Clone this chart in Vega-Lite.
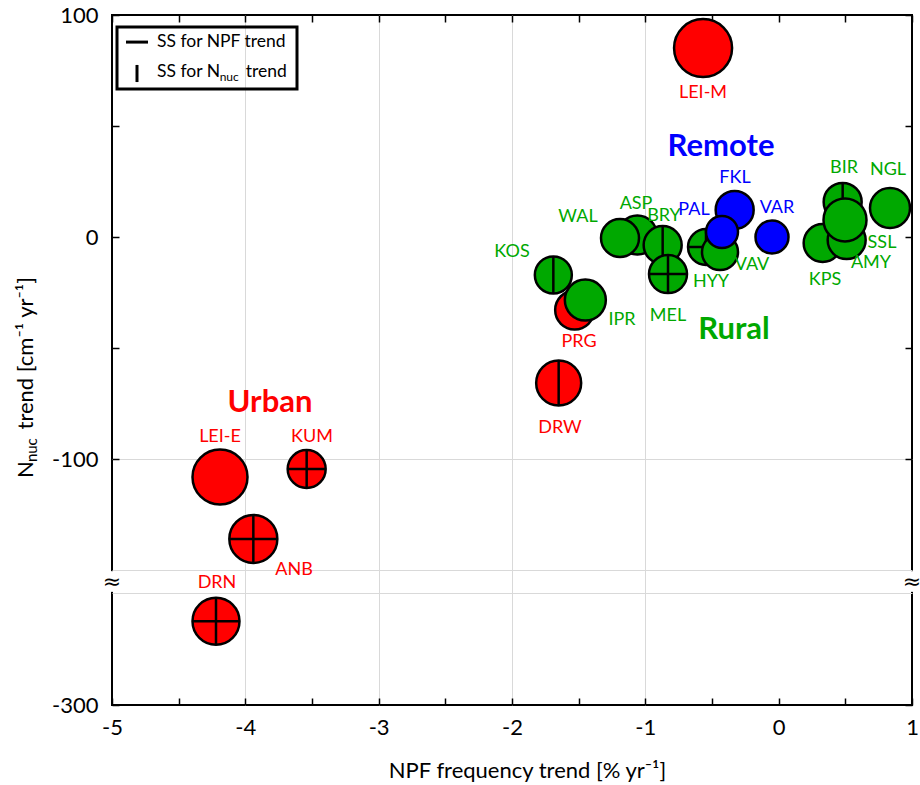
{
  "$schema": "https://vega.github.io/schema/vega-lite/v6.json",
  "width": 800,
  "height": 690,
  "autosize": {"type": "none"},
  "padding": {"left": 112, "top": 15, "right": 8, "bottom": 80},
  "background": "white",
  "config": {
    "view": {"stroke": "black", "strokeWidth": 2},
    "font": "Lato",
    "axis": {
      "labelFont": "Lato", "titleFont": "Lato", "labelColor": "black", "titleColor": "black",
      "labelFontSize": 22, "titleFontSize": 22, "titleFontWeight": "normal",
      "tickColor": "black", "tickWidth": 1.5, "tickSize": -7, "domain": false,
      "gridColor": "#d9d9d9", "gridWidth": 1, "labelOverlap": false, "labelFlush": false
    }
  },
  "datasets": {
    "sites": [
      {"site": "LEI-M", "type": "Urban", "npf": -0.567, "nnuc": 85.1, "d": 58, "ssNPF": false, "ssN": false, "lx": -0.5675, "ly": 64.9, "top": false},
      {"site": "LEI-E", "type": "Urban", "npf": -4.19, "nnuc": -108.1, "d": 55, "ssNPF": false, "ssN": false, "lx": -4.19, "ly": -90.1, "top": false},
      {"site": "KUM", "type": "Urban", "npf": -3.54, "nnuc": -104.5, "d": 38, "ssNPF": true, "ssN": true, "lx": -3.5, "ly": -90.1, "top": false},
      {"site": "ANB", "type": "Urban", "npf": -3.94, "nnuc": -136.0, "d": 48, "ssNPF": true, "ssN": true, "lx": -3.635, "ly": -150.0, "top": false},
      {"site": "DRN", "type": "Urban", "npf": -4.22, "nnuc": -262.6, "d": 47, "ssNPF": true, "ssN": true, "lx": -4.2125, "ly": -206.5, "top": false},
      {"site": "DRW", "type": "Urban", "npf": -1.65, "nnuc": -65.8, "d": 45, "ssNPF": false, "ssN": true, "lx": -1.64, "ly": -86.0, "top": false},
      {"site": "PRG", "type": "Urban", "npf": -1.53, "nnuc": -32.9, "d": 39, "ssNPF": false, "ssN": false, "lx": -1.4975, "ly": -47.3, "top": false},
      {"site": "KOS", "type": "Rural", "npf": -1.69, "nnuc": -17.1, "d": 37, "ssNPF": false, "ssN": true, "lx": -2.0, "ly": -6.8, "top": false},
      {"site": "IPR", "type": "Rural", "npf": -1.45, "nnuc": -28.4, "d": 41, "ssNPF": false, "ssN": false, "lx": -1.175, "ly": -37.4, "top": false},
      {"site": "ASP", "type": "Rural", "npf": -1.06, "nnuc": 0.9, "d": 39, "ssNPF": false, "ssN": false, "lx": -1.07, "ly": 14.9, "top": false},
      {"site": "WAL", "type": "Rural", "npf": -1.19, "nnuc": -0.45, "d": 38, "ssNPF": false, "ssN": false, "lx": -1.505, "ly": 9.0, "top": false},
      {"site": "BRY", "type": "Rural", "npf": -0.87, "nnuc": -3.6, "d": 38, "ssNPF": false, "ssN": true, "lx": -0.86, "ly": 9.5, "top": false},
      {"site": "HYY", "type": "Rural", "npf": -0.545, "nnuc": -4.5, "d": 36, "ssNPF": true, "ssN": true, "lx": -0.5075, "ly": -20.3, "top": false},
      {"site": "KPS", "type": "Rural", "npf": 0.33, "nnuc": -2.7, "d": 38, "ssNPF": false, "ssN": false, "lx": 0.3475, "ly": -19.4, "top": false},
      {"site": "AMY", "type": "Rural", "npf": 0.51, "nnuc": -1.4, "d": 38, "ssNPF": false, "ssN": false, "lx": 0.6925, "ly": -11.7, "top": false},
      {"site": "BIR", "type": "Rural", "npf": 0.48, "nnuc": 15.8, "d": 38, "ssNPF": false, "ssN": true, "lx": 0.49, "ly": 31.1, "top": false},
      {"site": "NGL", "type": "Rural", "npf": 0.835, "nnuc": 13.1, "d": 40, "ssNPF": false, "ssN": false, "lx": 0.82, "ly": 30.2, "top": false},
      {"site": "MEL", "type": "Rural", "npf": -0.83, "nnuc": -16.7, "d": 38, "ssNPF": true, "ssN": true, "lx": -0.83, "ly": -35.6, "top": true},
      {"site": "VAV", "type": "Rural", "npf": -0.44, "nnuc": -6.8, "d": 36, "ssNPF": false, "ssN": false, "lx": -0.2, "ly": -12.6, "top": true},
      {"site": "SSL", "type": "Rural", "npf": 0.4975, "nnuc": 7.7, "d": 43, "ssNPF": false, "ssN": false, "lx": 0.775, "ly": -2.7, "top": true},
      {"site": "FKL", "type": "Remote", "npf": -0.33, "nnuc": 12.2, "d": 38, "ssNPF": false, "ssN": false, "lx": -0.3275, "ly": 26.6, "top": true},
      {"site": "PAL", "type": "Remote", "npf": -0.425, "nnuc": 2.25, "d": 32, "ssNPF": false, "ssN": false, "lx": -0.635, "ly": 12.2, "top": true},
      {"site": "VAR", "type": "Remote", "npf": -0.05, "nnuc": 0.0, "d": 33, "ssNPF": false, "ssN": false, "lx": -0.0125, "ly": 13.1, "top": true}
    ],
    "groups": [
      {"t": "Urban", "type": "Urban", "x": -3.815, "y": -74.8},
      {"t": "Rural", "type": "Rural", "x": -0.335, "y": -41.9},
      {"t": "Remote", "type": "Remote", "x": -0.4325, "y": 40.5}
    ]
  },
  "resolve": {"axis": {"x": "independent", "y": "independent"}},
  "layer": [
    {
      "mark": {"type": "rule", "color": "black", "strokeWidth": 2.5},
      "encoding": {
        "x": {"datum": 0, "type": "quantitative",
          "axis": {"orient": "top", "values": [-5, -4.5, -4, -3.5, -3, -2.5, -2, -1.5, -1, -0.5, 0, 0.5, 1], "labels": false, "grid": false, "title": null}}
      }
    },
    {
      "mark": {"type": "rule", "color": "black", "strokeWidth": 1.5},
      "encoding": {
        "y": {"datum": 0, "type": "quantitative",
          "axis": {"orient": "right", "values": [100, 50, 0, -50, -100, -300], "labels": false, "grid": false, "title": null}}
      }
    },
    {
      "data": {"name": "sites"},
      "transform": [{"filter": "!datum.top"}],
      "mark": {"type": "point", "shape": "circle", "filled": true, "stroke": "black", "strokeWidth": 2.5, "opacity": 1},
      "encoding": {
        "x": {"field": "npf", "type": "quantitative",
          "scale": {"domain": [-5, 1], "nice": false, "zero": false},
          "axis": {"orient": "bottom", "values": [-5, -4.5, -4, -3.5, -3, -2.5, -2, -1.5, -1, -0.5, 0, 0.5, 1],
            "labelExpr": "datum.value % 1 === 0 ? '' + datum.value : ''", "labelPadding": 19,
            "grid": true,
            "gridOpacity": {"condition": {"test": "datum.value % 1 !== 0 || datum.value === 0 || datum.value === -5 || datum.value === 1", "value": 0}, "value": 1},
            "title": "NPF frequency trend [% yr⁻¹]", "titleX": 415, "titleY": 55, "titleAlign": "center", "titleBaseline": "top"}},
        "y": {"field": "nnuc", "type": "quantitative",
          "scale": {"domain": [-300, -250, -150, 100], "range": [690, 578, 555, 0], "nice": false, "zero": false},
          "axis": {"orient": "left", "values": [100, 50, 0, -50, -100, -150, -250, -300],
            "labelExpr": "indexof([100, 0, -100, -300], datum.value) >= 0 ? '' + datum.value : ''", "labelPadding": 21,
            "grid": true,
            "gridOpacity": {"condition": {"test": "indexof([-100, -150, -250], datum.value) < 0", "value": 0}, "value": 1},
            "tickOpacity": {"condition": {"test": "datum.value === -150 || datum.value === -250", "value": 0}, "value": 1},
            "title": null}},
        "color": {"field": "type", "type": "nominal", "scale": {"domain": ["Urban", "Rural", "Remote"], "range": ["#ff0000", "#00a800", "#0000ff"]}, "legend": null},
        "size": {"field": "d", "type": "quantitative", "scale": {"type": "pow", "exponent": 2, "domain": [0, 60], "range": [0, 3600]}, "legend": null}
      }
    },
    {
      "data": {"name": "sites"},
      "transform": [{"filter": "!datum.top && datum.ssNPF"}],
      "mark": {"type": "point", "shape": "M-1,0L1,0", "filled": false, "color": "black", "strokeWidth": 2.5, "opacity": 1},
      "encoding": {
        "x": {"field": "npf", "type": "quantitative", "axis": null},
        "y": {"field": "nnuc", "type": "quantitative", "axis": null},
        "size": {"field": "d", "type": "quantitative", "legend": null}
      }
    },
    {
      "data": {"name": "sites"},
      "transform": [{"filter": "!datum.top && datum.ssN"}],
      "mark": {"type": "point", "shape": "M0,-1L0,1", "filled": false, "color": "black", "strokeWidth": 2.5, "opacity": 1},
      "encoding": {
        "x": {"field": "npf", "type": "quantitative", "axis": null},
        "y": {"field": "nnuc", "type": "quantitative", "axis": null},
        "size": {"field": "d", "type": "quantitative", "legend": null}
      }
    },
    {
      "data": {"name": "sites"},
      "transform": [{"filter": "datum.top"}],
      "mark": {"type": "point", "shape": "circle", "filled": true, "stroke": "black", "strokeWidth": 2.5, "opacity": 1},
      "encoding": {
        "x": {"field": "npf", "type": "quantitative", "axis": null},
        "y": {"field": "nnuc", "type": "quantitative", "axis": null},
        "color": {"field": "type", "type": "nominal", "legend": null},
        "size": {"field": "d", "type": "quantitative", "legend": null}
      }
    },
    {
      "data": {"name": "sites"},
      "transform": [{"filter": "datum.top && datum.ssNPF"}],
      "mark": {"type": "point", "shape": "M-1,0L1,0", "filled": false, "color": "black", "strokeWidth": 2.5, "opacity": 1},
      "encoding": {
        "x": {"field": "npf", "type": "quantitative", "axis": null},
        "y": {"field": "nnuc", "type": "quantitative", "axis": null},
        "size": {"field": "d", "type": "quantitative", "legend": null}
      }
    },
    {
      "data": {"name": "sites"},
      "transform": [{"filter": "datum.top && datum.ssN"}],
      "mark": {"type": "point", "shape": "M0,-1L0,1", "filled": false, "color": "black", "strokeWidth": 2.5, "opacity": 1},
      "encoding": {
        "x": {"field": "npf", "type": "quantitative", "axis": null},
        "y": {"field": "nnuc", "type": "quantitative", "axis": null},
        "size": {"field": "d", "type": "quantitative", "legend": null}
      }
    },
    {
      "data": {"name": "sites"},
      "mark": {"type": "text", "fontSize": 18, "font": "Lato", "align": "center", "baseline": "middle"},
      "encoding": {
        "x": {"field": "lx", "type": "quantitative", "axis": null},
        "y": {"field": "ly", "type": "quantitative", "axis": null},
        "text": {"field": "site"},
        "color": {"field": "type", "type": "nominal", "legend": null}
      }
    },
    {
      "data": {"name": "groups"},
      "mark": {"type": "text", "fontSize": 31, "fontWeight": "bold", "font": "Lato", "align": "center", "baseline": "middle"},
      "encoding": {
        "x": {"field": "x", "type": "quantitative", "axis": null},
        "y": {"field": "y", "type": "quantitative", "axis": null},
        "text": {"field": "t"},
        "color": {"field": "type", "type": "nominal", "legend": null}
      }
    },
    {
      "data": {"values": [{"x": -4.9625, "x2": -3.6125, "y": 94.6, "y2": 66.7}]},
      "mark": {"type": "rect", "fill": "transparent", "stroke": "black", "strokeWidth": 3},
      "encoding": {
        "x": {"field": "x", "type": "quantitative", "axis": null},
        "x2": {"field": "x2"},
        "y": {"field": "y", "type": "quantitative", "axis": null},
        "y2": {"field": "y2"}
      }
    },
    {
      "data": {"values": [
        {"x": -4.895, "x2": -4.73, "y": 87.8, "y2": 87.8},
        {"x": -4.8125, "x2": -4.8125, "y": 77.5, "y2": 69.8}
      ]},
      "mark": {"type": "rule", "color": "black", "strokeWidth": 3},
      "encoding": {
        "x": {"field": "x", "type": "quantitative", "axis": null},
        "x2": {"field": "x2"},
        "y": {"field": "y", "type": "quantitative", "axis": null},
        "y2": {"field": "y2"}
      }
    },
    {
      "data": {"values": [
        {"t": "SS for NPF trend", "x": -4.6625, "y": 87.8},
        {"t": "SS for N", "x": -4.6625, "y": 74.3},
        {"t": "trend", "x": -3.9975, "y": 74.3}
      ]},
      "mark": {"type": "text", "fontSize": 17.5, "font": "Lato", "align": "left", "baseline": "middle", "color": "black"},
      "encoding": {
        "x": {"field": "x", "type": "quantitative", "axis": null},
        "y": {"field": "y", "type": "quantitative", "axis": null},
        "text": {"field": "t"}
      }
    },
    {
      "data": {"values": [{"t": "nuc", "x": -4.1925, "y": 70.3}]},
      "mark": {"type": "text", "fontSize": 12, "font": "Lato", "align": "left", "baseline": "alphabetic", "color": "black"},
      "encoding": {
        "x": {"field": "x", "type": "quantitative", "axis": null},
        "y": {"field": "y", "type": "quantitative", "axis": null},
        "text": {"field": "t"}
      }
    },
    {
      "data": {"values": [
        {"t": "N", "x": -5.5925, "y": -108.6},
        {"t": "trend [cm⁻¹ yr⁻¹]", "x": -5.5925, "y": -86.7}
      ]},
      "mark": {"type": "text", "fontSize": 22, "font": "Lato", "align": "left", "baseline": "alphabetic", "angle": 270, "color": "black"},
      "encoding": {
        "x": {"field": "x", "type": "quantitative", "axis": null},
        "y": {"field": "y", "type": "quantitative", "axis": null},
        "text": {"field": "t"}
      }
    },
    {
      "data": {"values": [{"t": "nuc", "x": -5.5625, "y": -101.4}]},
      "mark": {"type": "text", "fontSize": 15, "font": "Lato", "align": "left", "baseline": "alphabetic", "angle": 270, "color": "black"},
      "encoding": {
        "x": {"field": "x", "type": "quantitative", "axis": null},
        "y": {"field": "y", "type": "quantitative", "axis": null},
        "text": {"field": "t"}
      }
    },
    {
      "data": {"values": [{"x": -5.04, "x2": -4.96, "y": -155, "y2": -245}, {"x": 0.96, "x2": 1.04, "y": -155, "y2": -245}]},
      "mark": {"type": "rect", "fill": "white"},
      "encoding": {
        "x": {"field": "x", "type": "quantitative", "axis": null},
        "x2": {"field": "x2"},
        "y": {"field": "y", "type": "quantitative", "axis": null},
        "y2": {"field": "y2"}
      }
    },
    {
      "data": {"values": [{"x": -5, "y": -200}, {"x": 1, "y": -200}]},
      "mark": {"type": "text", "text": "≈", "fontSize": 22, "font": "DejaVu Sans", "align": "center", "baseline": "middle", "color": "black"},
      "encoding": {
        "x": {"field": "x", "type": "quantitative", "axis": null},
        "y": {"field": "y", "type": "quantitative", "axis": null}
      }
    }
  ]
}
